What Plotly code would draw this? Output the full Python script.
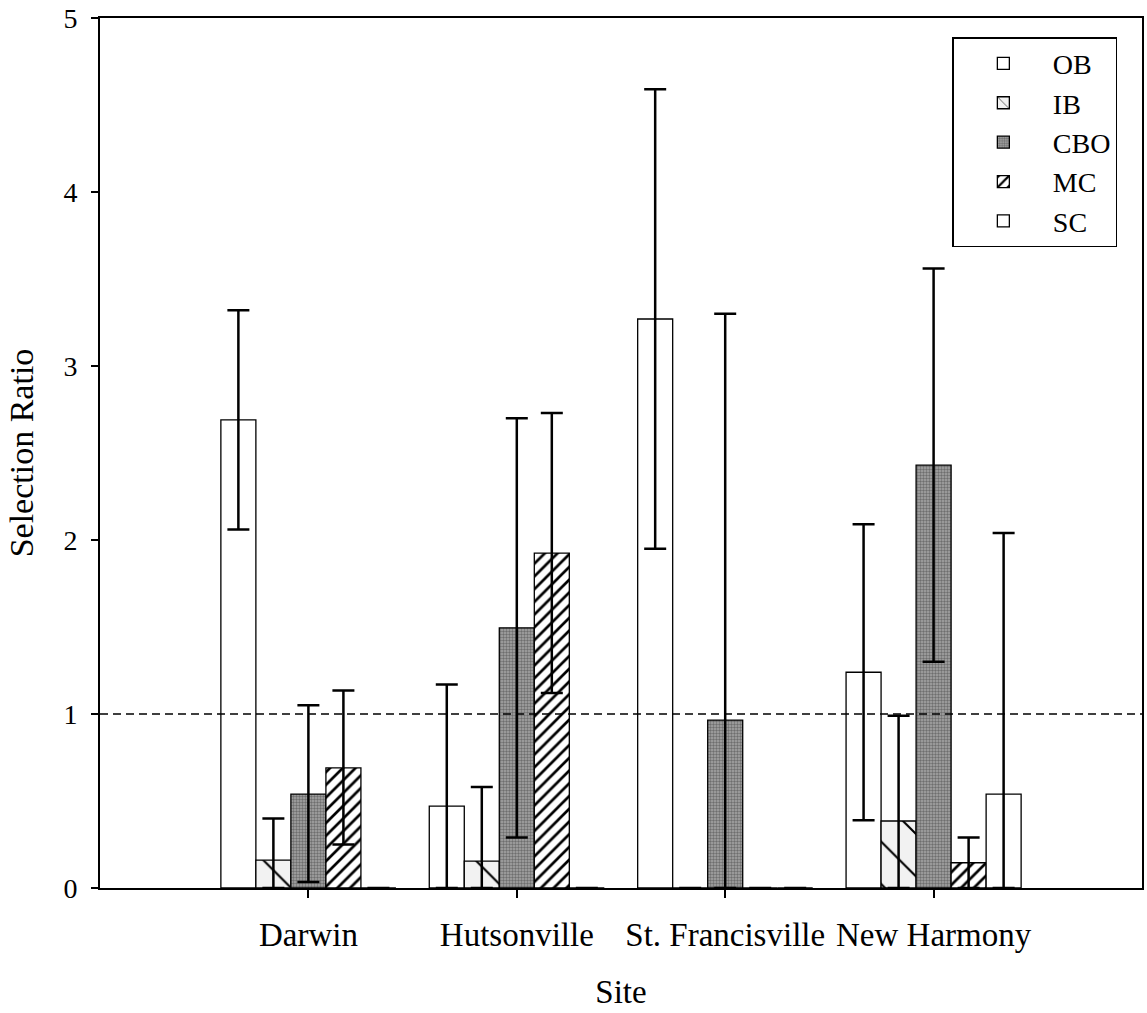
import plotly.graph_objects as go

# ---------------- data ----------------
sites = ["Darwin", "Hutsonville", "St. Francisville", "New Harmony"]
series_names = ["OB", "IB", "CBO", "MC", "SC"]

ob = [2.69, 0.47, 3.27, 1.24]
ob_upper = [3.32, 1.17, 4.59, 2.09]
ob_lower = [2.06, 0.00, 1.95, 0.39]

ib = [0.16, 0.155, 0.0, 0.385]
ib_upper = [0.40, 0.58, None, 0.99]
ib_lower = [0.0, 0.0, None, 0.0]

cbo = [0.54, 1.495, 0.965, 2.43]
cbo_upper = [1.05, 2.70, 3.30, 3.56]
cbo_lower = [0.035, 0.29, 0.0, 1.30]

mc = [0.69, 1.925, 0.0, 0.145]
mc_upper = [1.135, 2.73, None, 0.29]
mc_lower = [0.25, 1.12, None, 0.0]

sc = [0.0, 0.0, 0.0, 0.54]
sc_upper = [None, None, None, 2.04]
sc_lower = [None, None, None, 0.0]

reference_ratio = 1.0
y_ticks = [0, 1, 2, 3, 4, 5]

values = [ob, ib, cbo, mc, sc]
uppers = [ob_upper, ib_upper, cbo_upper, mc_upper, sc_upper]
lowers = [ob_lower, ib_lower, cbo_lower, mc_lower, sc_lower]

# ---------------- styles ----------------
FONT = "Liberation Serif"
styles = {
    "OB": dict(color="white", pattern=dict(shape="")),
    "IB": dict(color="#f4f4f4", pattern=dict(shape="\\", fgcolor="black", bgcolor="#f2f2f2",
                                             size=30, solidity=0.07, fillmode="replace")),
    "CBO": dict(color="#9a9a9a", pattern=dict(shape=".", fgcolor="#6e6e6e", bgcolor="#a8a8a8",
                                              size=3, solidity=0.5, fillmode="replace")),
    "MC": dict(color="white", pattern=dict(shape="/", fgcolor="black", bgcolor="white",
                                           size=9, solidity=0.3, fillmode="replace")),
    "SC": dict(color="white", pattern=dict(shape="")),
}

fig = go.Figure()
for name, vals, up, lo in zip(series_names, values, uppers, lowers):
    plus = [None if u is None else u - v for u, v in zip(up, vals)]
    minus = [None if l is None else v - l for l, v in zip(lo, vals)]
    st = styles[name]
    fig.add_trace(go.Bar(
        name=name,
        x=sites,
        y=vals,
        marker=dict(color=st["color"], line=dict(color="black", width=1.3),
                    pattern=st["pattern"]),
        error_y=dict(type="data", symmetric=False, array=plus, arrayminus=minus,
                     color="black", thickness=2.5, width=11),
    ))

fig.add_shape(type="line", xref="paper", yref="y", x0=0, x1=1,
              y0=reference_ratio, y1=reference_ratio,
              line=dict(color="black", width=1.5, dash="8px,5px"), layer="above")

fig.update_layout(
    width=1147, height=1013,
    margin=dict(l=100, r=5, t=18, b=125, autoexpand=False),
    paper_bgcolor="white", plot_bgcolor="white",
    barmode="group", bargap=0.16, bargroupgap=0.0,
    font=dict(family=FONT, color="black"),
    showlegend=True,
    legend=dict(x=0.818, xanchor="left", y=0.978, yanchor="top",
                bordercolor="black", borderwidth=1.5, bgcolor="white",
                font=dict(family=FONT, size=28, color="black"),
                itemwidth=89, traceorder="normal"),
)

fig.update_xaxes(
    type="category", range=[-1, len(sites)], automargin=False,
    showline=True, linecolor="black", linewidth=2, mirror=True,
    ticks="outside", ticklen=8, tickwidth=1.5, tickcolor="black",
    tickfont=dict(family=FONT, size=33, color="black"),
    ticklabelstandoff=8,
    showgrid=False, zeroline=False,
    title=dict(text="Site", font=dict(family=FONT, size=33, color="black"), standoff=28),
)
fig.update_yaxes(
    range=[0, 5], tickvals=y_ticks, automargin=False,
    showline=True, linecolor="black", linewidth=2, mirror=True,
    ticks="outside", ticklen=7, tickwidth=1.5, tickcolor="black",
    tickfont=dict(family=FONT, size=28, color="black"),
    ticklabelstandoff=8,
    showgrid=False, zeroline=False,
    title=dict(text="Selection Ratio", font=dict(family=FONT, size=34, color="black"), standoff=20),
)

fig.write_html("out.html", config={"displayModeBar": False},
               post_script="document.body.style.margin='0px';")
